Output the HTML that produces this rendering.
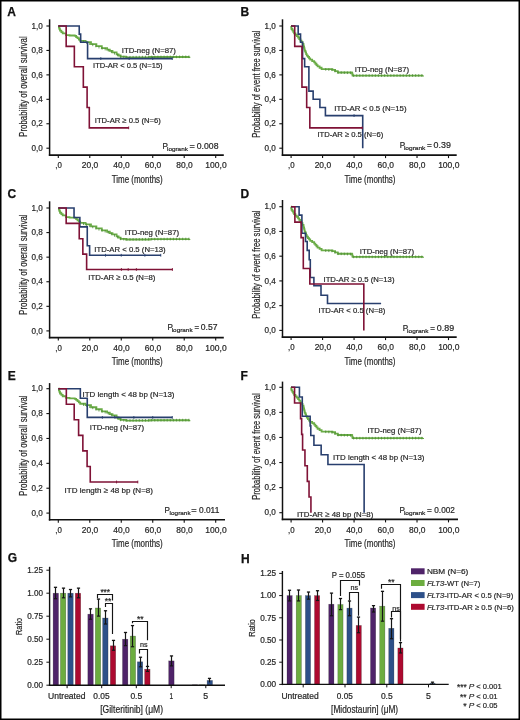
<!DOCTYPE html>
<html><head><meta charset="utf-8"><style>
html,body{margin:0;padding:0;background:#fff;width:520px;height:720px;overflow:hidden;font-family:"Liberation Sans",sans-serif;}
svg{display:block;will-change:transform;}
</style></head><body>
<svg width="520" height="720" viewBox="0 0 520 720" font-family="&quot;Liberation Sans&quot;, sans-serif">
<rect x="0" y="0" width="520" height="720" fill="#fff"/>
<text x="7.30" y="15.60" font-size="12" font-weight="bold" fill="#111" stroke="#111" stroke-width="0.25">A</text>
<text x="240.60" y="15.50" font-size="12" font-weight="bold" fill="#111" stroke="#111" stroke-width="0.25">B</text>
<text x="7.50" y="198.30" font-size="12" font-weight="bold" fill="#111" stroke="#111" stroke-width="0.25">C</text>
<text x="240.60" y="198.30" font-size="12" font-weight="bold" fill="#111" stroke="#111" stroke-width="0.25">D</text>
<text x="7.70" y="380.00" font-size="12" font-weight="bold" fill="#111" stroke="#111" stroke-width="0.25">E</text>
<text x="240.60" y="379.90" font-size="12" font-weight="bold" fill="#111" stroke="#111" stroke-width="0.25">F</text>
<line x1="49.60" y1="19.30" x2="49.60" y2="155.90" stroke="#111" stroke-width="1.5"/>
<line x1="48.85" y1="155.10" x2="223.80" y2="155.10" stroke="#111" stroke-width="1.6"/>
<line x1="46.40" y1="148.20" x2="49.60" y2="148.20" stroke="#111" stroke-width="1.1"/>
<text x="42.90" y="150.90" font-size="8.4" text-anchor="end" textLength="11.30" lengthAdjust="spacingAndGlyphs" fill="#262626" stroke="#262626" stroke-width="0.2">0,0</text>
<line x1="46.40" y1="123.76" x2="49.60" y2="123.76" stroke="#111" stroke-width="1.1"/>
<text x="42.90" y="126.46" font-size="8.4" text-anchor="end" textLength="11.30" lengthAdjust="spacingAndGlyphs" fill="#262626" stroke="#262626" stroke-width="0.2">0,2</text>
<line x1="46.40" y1="99.32" x2="49.60" y2="99.32" stroke="#111" stroke-width="1.1"/>
<text x="42.90" y="102.02" font-size="8.4" text-anchor="end" textLength="11.30" lengthAdjust="spacingAndGlyphs" fill="#262626" stroke="#262626" stroke-width="0.2">0,4</text>
<line x1="46.40" y1="74.88" x2="49.60" y2="74.88" stroke="#111" stroke-width="1.1"/>
<text x="42.90" y="77.58" font-size="8.4" text-anchor="end" textLength="11.30" lengthAdjust="spacingAndGlyphs" fill="#262626" stroke="#262626" stroke-width="0.2">0,6</text>
<line x1="46.40" y1="50.44" x2="49.60" y2="50.44" stroke="#111" stroke-width="1.1"/>
<text x="42.90" y="53.14" font-size="8.4" text-anchor="end" textLength="11.30" lengthAdjust="spacingAndGlyphs" fill="#262626" stroke="#262626" stroke-width="0.2">0,8</text>
<line x1="46.40" y1="26.00" x2="49.60" y2="26.00" stroke="#111" stroke-width="1.1"/>
<text x="42.90" y="28.70" font-size="8.4" text-anchor="end" textLength="11.30" lengthAdjust="spacingAndGlyphs" fill="#262626" stroke="#262626" stroke-width="0.2">1,0</text>
<line x1="58.30" y1="155.10" x2="58.30" y2="158.10" stroke="#111" stroke-width="1.1"/>
<text x="58.60" y="168.40" font-size="8.4" text-anchor="middle" textLength="6.60" lengthAdjust="spacingAndGlyphs" fill="#262626" stroke="#262626" stroke-width="0.2">,0</text>
<line x1="89.78" y1="155.10" x2="89.78" y2="158.10" stroke="#111" stroke-width="1.1"/>
<text x="90.08" y="168.40" font-size="8.4" text-anchor="middle" textLength="16.40" lengthAdjust="spacingAndGlyphs" fill="#262626" stroke="#262626" stroke-width="0.2">20,0</text>
<line x1="121.26" y1="155.10" x2="121.26" y2="158.10" stroke="#111" stroke-width="1.1"/>
<text x="121.56" y="168.40" font-size="8.4" text-anchor="middle" textLength="16.40" lengthAdjust="spacingAndGlyphs" fill="#262626" stroke="#262626" stroke-width="0.2">40,0</text>
<line x1="152.74" y1="155.10" x2="152.74" y2="158.10" stroke="#111" stroke-width="1.1"/>
<text x="153.04" y="168.40" font-size="8.4" text-anchor="middle" textLength="16.40" lengthAdjust="spacingAndGlyphs" fill="#262626" stroke="#262626" stroke-width="0.2">60,0</text>
<line x1="184.22" y1="155.10" x2="184.22" y2="158.10" stroke="#111" stroke-width="1.1"/>
<text x="184.52" y="168.40" font-size="8.4" text-anchor="middle" textLength="16.40" lengthAdjust="spacingAndGlyphs" fill="#262626" stroke="#262626" stroke-width="0.2">80,0</text>
<line x1="215.70" y1="155.10" x2="215.70" y2="158.10" stroke="#111" stroke-width="1.1"/>
<text x="216.00" y="168.40" font-size="8.4" text-anchor="middle" textLength="21.30" lengthAdjust="spacingAndGlyphs" fill="#262626" stroke="#262626" stroke-width="0.2">100,0</text>
<text x="137.20" y="182.60" font-size="10.6" text-anchor="middle" textLength="51.00" lengthAdjust="spacingAndGlyphs" fill="#262626" stroke="#262626" stroke-width="0.2">Time (months)</text>
<text transform="translate(26.90,86.60) rotate(-90)" x="0" y="0" font-size="10.4" text-anchor="middle" textLength="100.60" lengthAdjust="spacingAndGlyphs" fill="#262626" stroke="#262626" stroke-width="0.2">Probability of overall survival</text>
<path d="M58.40,26.00 H58.93 V27.57 H59.47 V29.13 H60.00 V30.70 H61.35 V32.05 H62.70 V33.40 H66.10 V35.10 H69.50 V35.50 H74.80 V35.90 H76.15 V37.05 H77.50 V38.20 H78.85 V39.50 H80.20 V40.80 H85.60 V42.20 H91.00 V44.20 H96.40 V46.20 H101.80 V48.20 H107.10 V49.60 H109.80 V50.95 H112.50 V52.30 H116.60 V54.30 H118.60 V55.50 H120.60 V56.70 H126.00 V57.30 H150.00 V57.00 H189.40 V56.80" fill="none" stroke="#6aac46" stroke-width="1.8" stroke-linejoin="miter" stroke-linecap="butt"/>
<path d="M83.48,40.35V42.95M86.58,41.26V43.86M89.68,42.41V45.01M92.78,43.56V46.16M95.88,44.71V47.31M98.98,45.86V48.46M102.08,46.98V49.58M105.18,47.79V50.39M108.28,48.89V51.49M111.38,50.44V53.04M114.48,51.97V54.57M117.58,53.59V56.19M120.68,55.41V58.01M123.78,55.75V58.35M126.88,55.99V58.59M129.98,55.95V58.55M133.08,55.91V58.51M136.18,55.87V58.47M139.28,55.83V58.43M142.38,55.80V58.40M145.48,55.76V58.36M148.58,55.72V58.32M151.68,55.69V58.29M154.78,55.68V58.28M157.88,55.66V58.26M160.98,55.64V58.24M164.08,55.63V58.23M167.18,55.61V58.21M170.28,55.60V58.20M173.38,55.58V58.18M176.48,55.57V58.17M179.58,55.55V58.15M182.68,55.53V58.13M185.78,55.52V58.12M188.88,55.50V58.10" stroke="#4b8a36" stroke-width="0.8" fill="none"/>
<path d="M58.30,26.00 H79.23 V34.15 H80.65 V42.29 H87.58 V58.59 H172.42" fill="none" stroke="#283f6e" stroke-width="1.6" stroke-linejoin="miter" stroke-linecap="butt"/>
<path d="M58.30,26.00 H66.17 V46.37 H74.35 V66.73 H83.33 V87.10 H87.10 V107.47 H89.31 V127.83 H128.82" fill="none" stroke="#7f1236" stroke-width="1.6" stroke-linejoin="miter" stroke-linecap="butt"/>
<path d="M172.26,57.19V59.99M100.80,57.19V59.99M129.13,57.19V59.99M152.74,57.19V59.99" stroke="#283f6e" stroke-width="0.9" fill="none"/>
<path d="M128.66,126.43V129.23" stroke="#7f1236" stroke-width="0.9" fill="none"/>
<text x="121.80" y="52.90" font-size="8.0" textLength="54.10" lengthAdjust="spacingAndGlyphs" fill="#262626" stroke="#262626" stroke-width="0.2">ITD-neg (N=87)</text>
<text x="93.10" y="68.00" font-size="8.0" textLength="69.50" lengthAdjust="spacingAndGlyphs" fill="#262626" stroke="#262626" stroke-width="0.2">ITD-AR &lt; 0.5 (N=15)</text>
<text x="94.80" y="123.30" font-size="8.0" textLength="65.90" lengthAdjust="spacingAndGlyphs" fill="#262626" stroke="#262626" stroke-width="0.2">ITD-AR ≥ 0.5 (N=6)</text>
<text x="162.60" y="148.60" font-size="8.6" textLength="5.40" lengthAdjust="spacingAndGlyphs" fill="#262626" stroke="#262626" stroke-width="0.2">P</text>
<text x="167.00" y="150.60" font-size="5.9" textLength="20.90" lengthAdjust="spacingAndGlyphs" fill="#262626" stroke="#262626" stroke-width="0.2">logrank</text>
<text x="189.50" y="148.60" font-size="8.6" textLength="5.30" lengthAdjust="spacingAndGlyphs" fill="#262626" stroke="#262626" stroke-width="0.2">=</text>
<text x="196.80" y="148.60" font-size="8.6" textLength="21.70" lengthAdjust="spacingAndGlyphs" fill="#262626" stroke="#262626" stroke-width="0.2">0.008</text>
<line x1="282.50" y1="19.30" x2="282.50" y2="155.90" stroke="#111" stroke-width="1.5"/>
<line x1="281.75" y1="155.10" x2="456.70" y2="155.10" stroke="#111" stroke-width="1.6"/>
<line x1="279.30" y1="148.20" x2="282.50" y2="148.20" stroke="#111" stroke-width="1.1"/>
<text x="275.80" y="150.90" font-size="8.4" text-anchor="end" textLength="11.30" lengthAdjust="spacingAndGlyphs" fill="#262626" stroke="#262626" stroke-width="0.2">0,0</text>
<line x1="279.30" y1="123.76" x2="282.50" y2="123.76" stroke="#111" stroke-width="1.1"/>
<text x="275.80" y="126.46" font-size="8.4" text-anchor="end" textLength="11.30" lengthAdjust="spacingAndGlyphs" fill="#262626" stroke="#262626" stroke-width="0.2">0,2</text>
<line x1="279.30" y1="99.32" x2="282.50" y2="99.32" stroke="#111" stroke-width="1.1"/>
<text x="275.80" y="102.02" font-size="8.4" text-anchor="end" textLength="11.30" lengthAdjust="spacingAndGlyphs" fill="#262626" stroke="#262626" stroke-width="0.2">0,4</text>
<line x1="279.30" y1="74.88" x2="282.50" y2="74.88" stroke="#111" stroke-width="1.1"/>
<text x="275.80" y="77.58" font-size="8.4" text-anchor="end" textLength="11.30" lengthAdjust="spacingAndGlyphs" fill="#262626" stroke="#262626" stroke-width="0.2">0,6</text>
<line x1="279.30" y1="50.44" x2="282.50" y2="50.44" stroke="#111" stroke-width="1.1"/>
<text x="275.80" y="53.14" font-size="8.4" text-anchor="end" textLength="11.30" lengthAdjust="spacingAndGlyphs" fill="#262626" stroke="#262626" stroke-width="0.2">0,8</text>
<line x1="279.30" y1="26.00" x2="282.50" y2="26.00" stroke="#111" stroke-width="1.1"/>
<text x="275.80" y="28.70" font-size="8.4" text-anchor="end" textLength="11.30" lengthAdjust="spacingAndGlyphs" fill="#262626" stroke="#262626" stroke-width="0.2">1,0</text>
<line x1="291.10" y1="155.10" x2="291.10" y2="158.10" stroke="#111" stroke-width="1.1"/>
<text x="291.40" y="168.40" font-size="8.4" text-anchor="middle" textLength="6.60" lengthAdjust="spacingAndGlyphs" fill="#262626" stroke="#262626" stroke-width="0.2">,0</text>
<line x1="322.58" y1="155.10" x2="322.58" y2="158.10" stroke="#111" stroke-width="1.1"/>
<text x="322.88" y="168.40" font-size="8.4" text-anchor="middle" textLength="16.40" lengthAdjust="spacingAndGlyphs" fill="#262626" stroke="#262626" stroke-width="0.2">20,0</text>
<line x1="354.06" y1="155.10" x2="354.06" y2="158.10" stroke="#111" stroke-width="1.1"/>
<text x="354.36" y="168.40" font-size="8.4" text-anchor="middle" textLength="16.40" lengthAdjust="spacingAndGlyphs" fill="#262626" stroke="#262626" stroke-width="0.2">40,0</text>
<line x1="385.54" y1="155.10" x2="385.54" y2="158.10" stroke="#111" stroke-width="1.1"/>
<text x="385.84" y="168.40" font-size="8.4" text-anchor="middle" textLength="16.40" lengthAdjust="spacingAndGlyphs" fill="#262626" stroke="#262626" stroke-width="0.2">60,0</text>
<line x1="417.02" y1="155.10" x2="417.02" y2="158.10" stroke="#111" stroke-width="1.1"/>
<text x="417.32" y="168.40" font-size="8.4" text-anchor="middle" textLength="16.40" lengthAdjust="spacingAndGlyphs" fill="#262626" stroke="#262626" stroke-width="0.2">80,0</text>
<line x1="448.50" y1="155.10" x2="448.50" y2="158.10" stroke="#111" stroke-width="1.1"/>
<text x="448.80" y="168.40" font-size="8.4" text-anchor="middle" textLength="21.30" lengthAdjust="spacingAndGlyphs" fill="#262626" stroke="#262626" stroke-width="0.2">100,0</text>
<text x="370.00" y="182.60" font-size="10.6" text-anchor="middle" textLength="51.00" lengthAdjust="spacingAndGlyphs" fill="#262626" stroke="#262626" stroke-width="0.2">Time (months)</text>
<text transform="translate(259.90,84.15) rotate(-90)" x="0" y="0" font-size="10.4" text-anchor="middle" textLength="107.30" lengthAdjust="spacingAndGlyphs" fill="#262626" stroke="#262626" stroke-width="0.2">Probability of event free survival</text>
<path d="M291.00,26.00 H291.25 V27.50 H291.50 V29.00 H292.37 V30.47 H293.23 V31.93 H294.10 V33.40 H295.43 V34.77 H296.77 V36.13 H298.10 V37.50 H299.23 V39.07 H300.37 V40.63 H301.50 V42.20 H302.50 V43.90 H303.50 V45.60 H303.82 V46.92 H304.15 V48.25 H304.48 V49.58 H304.80 V50.90 H305.47 V52.47 H306.13 V54.03 H306.80 V55.60 H307.93 V56.97 H309.07 V58.33 H310.20 V59.70 H312.20 V61.05 H314.20 V62.40 H315.33 V63.73 H316.47 V65.07 H317.60 V66.40 H319.60 V67.75 H321.60 V69.10 H332.40 V69.80 H335.10 V71.15 H337.80 V72.50 H351.90 V72.90 H352.25 V74.25 H352.60 V75.60 H423.10 V75.50" fill="none" stroke="#6aac46" stroke-width="1.8" stroke-linejoin="miter" stroke-linecap="butt"/>
<path d="M325.73,68.07V70.67M328.83,68.27V70.87M331.93,68.47V71.07M335.03,69.81V72.41M338.13,71.21V73.81M341.23,71.30V73.90M344.33,71.39V73.99M347.43,71.47V74.07M350.53,71.56V74.16M353.63,74.30V76.90M356.73,74.29V76.89M359.83,74.29V76.89M362.93,74.29V76.89M366.03,74.28V76.88M369.13,74.28V76.88M372.23,74.27V76.87M375.33,74.27V76.87M378.43,74.26V76.86M381.53,74.26V76.86M384.63,74.25V76.85M387.73,74.25V76.85M390.83,74.25V76.85M393.93,74.24V76.84M397.03,74.24V76.84M400.13,74.23V76.83M403.23,74.23V76.83M406.33,74.22V76.82M409.43,74.22V76.82M412.53,74.21V76.81M415.63,74.21V76.81M418.73,74.21V76.81M421.83,74.20V76.80" stroke="#4b8a36" stroke-width="0.8" fill="none"/>
<path d="M291.10,26.00 H298.18 V34.15 H300.54 V42.29 H302.59 V58.59 H304.64 V66.73 H308.89 V91.17 H313.14 V99.32 H319.90 V107.47 H325.41 V115.61 H362.72 V148.20" fill="none" stroke="#283f6e" stroke-width="1.6" stroke-linejoin="miter" stroke-linecap="butt"/>
<path d="M291.10,26.00 H294.72 V46.37 H301.96 V87.10 H306.68 V107.47 H309.83 V127.83 H362.40" fill="none" stroke="#7f1236" stroke-width="1.6" stroke-linejoin="miter" stroke-linecap="butt"/>
<path d="M354.06,114.21V117.01" stroke="#283f6e" stroke-width="0.9" fill="none"/>
<path d="M362.24,126.43V129.23" stroke="#7f1236" stroke-width="0.9" fill="none"/>
<text x="354.80" y="71.50" font-size="8.0" textLength="54.30" lengthAdjust="spacingAndGlyphs" fill="#262626" stroke="#262626" stroke-width="0.2">ITD-neg (N=87)</text>
<text x="334.30" y="111.20" font-size="8.0" textLength="72.20" lengthAdjust="spacingAndGlyphs" fill="#262626" stroke="#262626" stroke-width="0.2">ITD-AR &lt; 0.5 (N=15)</text>
<text x="317.40" y="137.20" font-size="8.0" textLength="65.90" lengthAdjust="spacingAndGlyphs" fill="#262626" stroke="#262626" stroke-width="0.2">ITD-AR ≥ 0.5 (N=6)</text>
<text x="399.80" y="148.30" font-size="8.6" textLength="5.40" lengthAdjust="spacingAndGlyphs" fill="#262626" stroke="#262626" stroke-width="0.2">P</text>
<text x="403.90" y="150.30" font-size="5.9" textLength="21.50" lengthAdjust="spacingAndGlyphs" fill="#262626" stroke="#262626" stroke-width="0.2">logrank</text>
<text x="426.90" y="148.30" font-size="8.6" textLength="4.80" lengthAdjust="spacingAndGlyphs" fill="#262626" stroke="#262626" stroke-width="0.2">=</text>
<text x="433.60" y="148.30" font-size="8.6" textLength="17.30" lengthAdjust="spacingAndGlyphs" fill="#262626" stroke="#262626" stroke-width="0.2">0.39</text>
<line x1="49.60" y1="201.30" x2="49.60" y2="338.40" stroke="#111" stroke-width="1.5"/>
<line x1="48.85" y1="337.60" x2="223.80" y2="337.60" stroke="#111" stroke-width="1.6"/>
<line x1="46.40" y1="330.90" x2="49.60" y2="330.90" stroke="#111" stroke-width="1.1"/>
<text x="42.90" y="333.60" font-size="8.4" text-anchor="end" textLength="11.30" lengthAdjust="spacingAndGlyphs" fill="#262626" stroke="#262626" stroke-width="0.2">0,0</text>
<line x1="46.40" y1="306.32" x2="49.60" y2="306.32" stroke="#111" stroke-width="1.1"/>
<text x="42.90" y="309.02" font-size="8.4" text-anchor="end" textLength="11.30" lengthAdjust="spacingAndGlyphs" fill="#262626" stroke="#262626" stroke-width="0.2">0,2</text>
<line x1="46.40" y1="281.74" x2="49.60" y2="281.74" stroke="#111" stroke-width="1.1"/>
<text x="42.90" y="284.44" font-size="8.4" text-anchor="end" textLength="11.30" lengthAdjust="spacingAndGlyphs" fill="#262626" stroke="#262626" stroke-width="0.2">0,4</text>
<line x1="46.40" y1="257.16" x2="49.60" y2="257.16" stroke="#111" stroke-width="1.1"/>
<text x="42.90" y="259.86" font-size="8.4" text-anchor="end" textLength="11.30" lengthAdjust="spacingAndGlyphs" fill="#262626" stroke="#262626" stroke-width="0.2">0,6</text>
<line x1="46.40" y1="232.58" x2="49.60" y2="232.58" stroke="#111" stroke-width="1.1"/>
<text x="42.90" y="235.28" font-size="8.4" text-anchor="end" textLength="11.30" lengthAdjust="spacingAndGlyphs" fill="#262626" stroke="#262626" stroke-width="0.2">0,8</text>
<line x1="46.40" y1="208.00" x2="49.60" y2="208.00" stroke="#111" stroke-width="1.1"/>
<text x="42.90" y="210.70" font-size="8.4" text-anchor="end" textLength="11.30" lengthAdjust="spacingAndGlyphs" fill="#262626" stroke="#262626" stroke-width="0.2">1,0</text>
<line x1="58.30" y1="337.60" x2="58.30" y2="340.60" stroke="#111" stroke-width="1.1"/>
<text x="58.60" y="350.90" font-size="8.4" text-anchor="middle" textLength="6.60" lengthAdjust="spacingAndGlyphs" fill="#262626" stroke="#262626" stroke-width="0.2">,0</text>
<line x1="89.78" y1="337.60" x2="89.78" y2="340.60" stroke="#111" stroke-width="1.1"/>
<text x="90.08" y="350.90" font-size="8.4" text-anchor="middle" textLength="16.40" lengthAdjust="spacingAndGlyphs" fill="#262626" stroke="#262626" stroke-width="0.2">20,0</text>
<line x1="121.26" y1="337.60" x2="121.26" y2="340.60" stroke="#111" stroke-width="1.1"/>
<text x="121.56" y="350.90" font-size="8.4" text-anchor="middle" textLength="16.40" lengthAdjust="spacingAndGlyphs" fill="#262626" stroke="#262626" stroke-width="0.2">40,0</text>
<line x1="152.74" y1="337.60" x2="152.74" y2="340.60" stroke="#111" stroke-width="1.1"/>
<text x="153.04" y="350.90" font-size="8.4" text-anchor="middle" textLength="16.40" lengthAdjust="spacingAndGlyphs" fill="#262626" stroke="#262626" stroke-width="0.2">60,0</text>
<line x1="184.22" y1="337.60" x2="184.22" y2="340.60" stroke="#111" stroke-width="1.1"/>
<text x="184.52" y="350.90" font-size="8.4" text-anchor="middle" textLength="16.40" lengthAdjust="spacingAndGlyphs" fill="#262626" stroke="#262626" stroke-width="0.2">80,0</text>
<line x1="215.70" y1="337.60" x2="215.70" y2="340.60" stroke="#111" stroke-width="1.1"/>
<text x="216.00" y="350.90" font-size="8.4" text-anchor="middle" textLength="21.30" lengthAdjust="spacingAndGlyphs" fill="#262626" stroke="#262626" stroke-width="0.2">100,0</text>
<text x="137.20" y="365.10" font-size="10.6" text-anchor="middle" textLength="51.00" lengthAdjust="spacingAndGlyphs" fill="#262626" stroke="#262626" stroke-width="0.2">Time (months)</text>
<text transform="translate(26.90,264.65) rotate(-90)" x="0" y="0" font-size="10.4" text-anchor="middle" textLength="100.50" lengthAdjust="spacingAndGlyphs" fill="#262626" stroke="#262626" stroke-width="0.2">Probability of overall survival</text>
<path d="M58.40,208.00 H58.93 V209.58 H59.47 V211.15 H60.00 V212.73 H61.35 V214.08 H62.70 V215.44 H66.10 V217.15 H69.50 V217.55 H74.80 V217.96 H76.15 V219.11 H77.50 V220.27 H78.85 V221.58 H80.20 V222.88 H85.60 V224.29 H91.00 V226.30 H96.40 V228.32 H101.80 V230.33 H107.10 V231.74 H109.80 V233.09 H112.50 V234.45 H116.60 V236.46 H118.60 V237.67 H120.60 V238.88 H126.00 V239.48 H150.00 V239.18 H189.40 V238.98" fill="none" stroke="#6aac46" stroke-width="1.8" stroke-linejoin="miter" stroke-linecap="butt"/>
<path d="M83.48,222.44V225.04M86.58,223.36V225.96M89.68,224.51V227.11M92.78,225.67V228.27M95.88,226.82V229.42M98.98,227.98V230.58M102.08,229.10V231.70M105.18,229.93V232.53M108.28,231.03V233.63M111.38,232.59V235.19M114.48,234.12V236.72M117.58,235.76V238.36M120.68,237.59V240.19M123.78,237.93V240.53M126.88,238.17V240.77M129.98,238.13V240.73M133.08,238.09V240.69M136.18,238.05V240.65M139.28,238.01V240.61M142.38,237.97V240.57M145.48,237.93V240.53M148.58,237.90V240.50M151.68,237.87V240.47M154.78,237.85V240.45M157.88,237.84V240.44M160.98,237.82V240.42M164.08,237.81V240.41M167.18,237.79V240.39M170.28,237.77V240.37M173.38,237.76V240.36M176.48,237.74V240.34M179.58,237.73V240.33M182.68,237.71V240.31M185.78,237.69V240.29M188.88,237.68V240.28" stroke="#4b8a36" stroke-width="0.8" fill="none"/>
<path d="M58.30,208.00 H74.04 V217.45 H79.86 V226.91 H87.26 V245.82 H89.62 V255.27 H160.92" fill="none" stroke="#283f6e" stroke-width="1.6" stroke-linejoin="miter" stroke-linecap="butt"/>
<path d="M58.30,208.00 H66.17 V223.36 H79.23 V238.72 H82.85 V254.09 H86.63 V269.45 H172.57" fill="none" stroke="#7f1236" stroke-width="1.6" stroke-linejoin="miter" stroke-linecap="butt"/>
<path d="M160.77,253.87V256.67M144.87,253.87V256.67M105.52,253.87V256.67M121.26,253.87V256.67" stroke="#283f6e" stroke-width="0.9" fill="none"/>
<path d="M172.42,268.05V270.85M121.42,268.05V270.85M128.19,268.05V270.85M136.37,268.05V270.85" stroke="#7f1236" stroke-width="0.9" fill="none"/>
<text x="124.80" y="234.70" font-size="8.0" textLength="54.30" lengthAdjust="spacingAndGlyphs" fill="#262626" stroke="#262626" stroke-width="0.2">ITD-neg (N=87)</text>
<text x="94.30" y="251.70" font-size="8.0" textLength="71.40" lengthAdjust="spacingAndGlyphs" fill="#262626" stroke="#262626" stroke-width="0.2">ITD-AR &lt; 0.5 (N=13)</text>
<text x="88.30" y="279.70" font-size="8.0" textLength="67.10" lengthAdjust="spacingAndGlyphs" fill="#262626" stroke="#262626" stroke-width="0.2">ITD-AR ≥ 0.5 (N=8)</text>
<text x="167.40" y="330.40" font-size="8.6" textLength="5.40" lengthAdjust="spacingAndGlyphs" fill="#262626" stroke="#262626" stroke-width="0.2">P</text>
<text x="171.70" y="332.40" font-size="5.9" textLength="20.90" lengthAdjust="spacingAndGlyphs" fill="#262626" stroke="#262626" stroke-width="0.2">logrank</text>
<text x="194.50" y="330.40" font-size="8.6" textLength="4.60" lengthAdjust="spacingAndGlyphs" fill="#262626" stroke="#262626" stroke-width="0.2">=</text>
<text x="200.80" y="330.40" font-size="8.6" textLength="16.70" lengthAdjust="spacingAndGlyphs" fill="#262626" stroke="#262626" stroke-width="0.2">0.57</text>
<line x1="282.50" y1="200.00" x2="282.50" y2="337.90" stroke="#111" stroke-width="1.5"/>
<line x1="281.75" y1="337.10" x2="456.70" y2="337.10" stroke="#111" stroke-width="1.6"/>
<line x1="279.30" y1="330.40" x2="282.50" y2="330.40" stroke="#111" stroke-width="1.1"/>
<text x="275.80" y="333.10" font-size="8.4" text-anchor="end" textLength="11.30" lengthAdjust="spacingAndGlyphs" fill="#262626" stroke="#262626" stroke-width="0.2">0,0</text>
<line x1="279.30" y1="305.66" x2="282.50" y2="305.66" stroke="#111" stroke-width="1.1"/>
<text x="275.80" y="308.36" font-size="8.4" text-anchor="end" textLength="11.30" lengthAdjust="spacingAndGlyphs" fill="#262626" stroke="#262626" stroke-width="0.2">0,2</text>
<line x1="279.30" y1="280.92" x2="282.50" y2="280.92" stroke="#111" stroke-width="1.1"/>
<text x="275.80" y="283.62" font-size="8.4" text-anchor="end" textLength="11.30" lengthAdjust="spacingAndGlyphs" fill="#262626" stroke="#262626" stroke-width="0.2">0,4</text>
<line x1="279.30" y1="256.18" x2="282.50" y2="256.18" stroke="#111" stroke-width="1.1"/>
<text x="275.80" y="258.88" font-size="8.4" text-anchor="end" textLength="11.30" lengthAdjust="spacingAndGlyphs" fill="#262626" stroke="#262626" stroke-width="0.2">0,6</text>
<line x1="279.30" y1="231.44" x2="282.50" y2="231.44" stroke="#111" stroke-width="1.1"/>
<text x="275.80" y="234.14" font-size="8.4" text-anchor="end" textLength="11.30" lengthAdjust="spacingAndGlyphs" fill="#262626" stroke="#262626" stroke-width="0.2">0,8</text>
<line x1="279.30" y1="206.70" x2="282.50" y2="206.70" stroke="#111" stroke-width="1.1"/>
<text x="275.80" y="209.40" font-size="8.4" text-anchor="end" textLength="11.30" lengthAdjust="spacingAndGlyphs" fill="#262626" stroke="#262626" stroke-width="0.2">1,0</text>
<line x1="291.10" y1="337.10" x2="291.10" y2="340.10" stroke="#111" stroke-width="1.1"/>
<text x="291.40" y="350.40" font-size="8.4" text-anchor="middle" textLength="6.60" lengthAdjust="spacingAndGlyphs" fill="#262626" stroke="#262626" stroke-width="0.2">,0</text>
<line x1="322.58" y1="337.10" x2="322.58" y2="340.10" stroke="#111" stroke-width="1.1"/>
<text x="322.88" y="350.40" font-size="8.4" text-anchor="middle" textLength="16.40" lengthAdjust="spacingAndGlyphs" fill="#262626" stroke="#262626" stroke-width="0.2">20,0</text>
<line x1="354.06" y1="337.10" x2="354.06" y2="340.10" stroke="#111" stroke-width="1.1"/>
<text x="354.36" y="350.40" font-size="8.4" text-anchor="middle" textLength="16.40" lengthAdjust="spacingAndGlyphs" fill="#262626" stroke="#262626" stroke-width="0.2">40,0</text>
<line x1="385.54" y1="337.10" x2="385.54" y2="340.10" stroke="#111" stroke-width="1.1"/>
<text x="385.84" y="350.40" font-size="8.4" text-anchor="middle" textLength="16.40" lengthAdjust="spacingAndGlyphs" fill="#262626" stroke="#262626" stroke-width="0.2">60,0</text>
<line x1="417.02" y1="337.10" x2="417.02" y2="340.10" stroke="#111" stroke-width="1.1"/>
<text x="417.32" y="350.40" font-size="8.4" text-anchor="middle" textLength="16.40" lengthAdjust="spacingAndGlyphs" fill="#262626" stroke="#262626" stroke-width="0.2">80,0</text>
<line x1="448.50" y1="337.10" x2="448.50" y2="340.10" stroke="#111" stroke-width="1.1"/>
<text x="448.80" y="350.40" font-size="8.4" text-anchor="middle" textLength="21.30" lengthAdjust="spacingAndGlyphs" fill="#262626" stroke="#262626" stroke-width="0.2">100,0</text>
<text x="370.00" y="364.60" font-size="10.6" text-anchor="middle" textLength="51.00" lengthAdjust="spacingAndGlyphs" fill="#262626" stroke="#262626" stroke-width="0.2">Time (months)</text>
<text transform="translate(259.90,264.65) rotate(-90)" x="0" y="0" font-size="10.4" text-anchor="middle" textLength="108.30" lengthAdjust="spacingAndGlyphs" fill="#262626" stroke="#262626" stroke-width="0.2">Probability of event free survival</text>
<path d="M291.00,206.70 H291.25 V208.22 H291.50 V209.74 H292.37 V211.22 H293.23 V212.71 H294.10 V214.19 H295.43 V215.57 H296.77 V216.96 H298.10 V218.34 H299.23 V219.93 H300.37 V221.51 H301.50 V223.10 H302.50 V224.82 H303.50 V226.54 H303.82 V227.88 H304.15 V229.22 H304.48 V230.56 H304.80 V231.91 H305.47 V233.49 H306.13 V235.08 H306.80 V236.66 H307.93 V238.05 H309.07 V239.43 H310.20 V240.81 H312.20 V242.18 H314.20 V243.55 H315.33 V244.90 H316.47 V246.25 H317.60 V247.60 H319.60 V248.96 H321.60 V250.33 H332.40 V251.04 H335.10 V252.40 H337.80 V253.77 H351.90 V254.18 H352.25 V255.54 H352.60 V256.91 H423.10 V256.81" fill="none" stroke="#6aac46" stroke-width="1.8" stroke-linejoin="miter" stroke-linecap="butt"/>
<path d="M325.73,249.30V251.90M328.83,249.50V252.10M331.93,249.71V252.31M335.03,251.07V253.67M338.13,252.48V255.08M341.23,252.57V255.17M344.33,252.66V255.26M347.43,252.75V255.35M350.53,252.84V255.44M353.63,255.61V258.21M356.73,255.60V258.20M359.83,255.60V258.20M362.93,255.59V258.19M366.03,255.59V258.19M369.13,255.59V258.19M372.23,255.58V258.18M375.33,255.58V258.18M378.43,255.57V258.17M381.53,255.57V258.17M384.63,255.56V258.16M387.73,255.56V258.16M390.83,255.55V258.15M393.93,255.55V258.15M397.03,255.55V258.15M400.13,255.54V258.14M403.23,255.54V258.14M406.33,255.53V258.13M409.43,255.53V258.13M412.53,255.52V258.12M415.63,255.52V258.12M418.73,255.51V258.11M421.83,255.51V258.11" stroke="#4b8a36" stroke-width="0.8" fill="none"/>
<path d="M291.10,206.70 H299.10 V215.10 H301.90 V233.20 H305.50 V241.50 H307.20 V250.40 H309.20 V259.80 H310.30 V277.50 H313.90 V285.80 H321.00 V295.20 H327.50 V303.50 H381.10" fill="none" stroke="#283f6e" stroke-width="1.6" stroke-linejoin="miter" stroke-linecap="butt"/>
<path d="M291.10,206.70 H294.88 V222.16 H301.09 V237.62 H303.30 V268.55 H309.83 V284.01 H363.82 V330.40" fill="none" stroke="#7f1236" stroke-width="1.6" stroke-linejoin="miter" stroke-linecap="butt"/>
<text x="359.80" y="253.50" font-size="8.0" textLength="54.30" lengthAdjust="spacingAndGlyphs" fill="#262626" stroke="#262626" stroke-width="0.2">ITD-neg (N=87)</text>
<text x="323.50" y="281.70" font-size="8.0" textLength="71.00" lengthAdjust="spacingAndGlyphs" fill="#262626" stroke="#262626" stroke-width="0.2">ITD-AR ≥ 0.5 (N=13)</text>
<text x="318.50" y="313.20" font-size="8.0" textLength="66.80" lengthAdjust="spacingAndGlyphs" fill="#262626" stroke="#262626" stroke-width="0.2">ITD-AR &lt; 0.5 (N=8)</text>
<text x="402.80" y="330.60" font-size="8.6" textLength="5.40" lengthAdjust="spacingAndGlyphs" fill="#262626" stroke="#262626" stroke-width="0.2">P</text>
<text x="407.10" y="332.60" font-size="5.9" textLength="21.30" lengthAdjust="spacingAndGlyphs" fill="#262626" stroke="#262626" stroke-width="0.2">logrank</text>
<text x="430.30" y="330.60" font-size="8.6" textLength="4.70" lengthAdjust="spacingAndGlyphs" fill="#262626" stroke="#262626" stroke-width="0.2">=</text>
<text x="436.80" y="330.60" font-size="8.6" textLength="17.30" lengthAdjust="spacingAndGlyphs" fill="#262626" stroke="#262626" stroke-width="0.2">0.89</text>
<line x1="49.60" y1="383.10" x2="49.60" y2="520.60" stroke="#111" stroke-width="1.5"/>
<line x1="48.85" y1="519.80" x2="225.00" y2="519.80" stroke="#111" stroke-width="1.6"/>
<line x1="46.40" y1="513.10" x2="49.60" y2="513.10" stroke="#111" stroke-width="1.1"/>
<text x="42.90" y="515.80" font-size="8.4" text-anchor="end" textLength="11.30" lengthAdjust="spacingAndGlyphs" fill="#262626" stroke="#262626" stroke-width="0.2">0,0</text>
<line x1="46.40" y1="488.22" x2="49.60" y2="488.22" stroke="#111" stroke-width="1.1"/>
<text x="42.90" y="490.92" font-size="8.4" text-anchor="end" textLength="11.30" lengthAdjust="spacingAndGlyphs" fill="#262626" stroke="#262626" stroke-width="0.2">0,2</text>
<line x1="46.40" y1="463.34" x2="49.60" y2="463.34" stroke="#111" stroke-width="1.1"/>
<text x="42.90" y="466.04" font-size="8.4" text-anchor="end" textLength="11.30" lengthAdjust="spacingAndGlyphs" fill="#262626" stroke="#262626" stroke-width="0.2">0,4</text>
<line x1="46.40" y1="438.46" x2="49.60" y2="438.46" stroke="#111" stroke-width="1.1"/>
<text x="42.90" y="441.16" font-size="8.4" text-anchor="end" textLength="11.30" lengthAdjust="spacingAndGlyphs" fill="#262626" stroke="#262626" stroke-width="0.2">0,6</text>
<line x1="46.40" y1="413.58" x2="49.60" y2="413.58" stroke="#111" stroke-width="1.1"/>
<text x="42.90" y="416.28" font-size="8.4" text-anchor="end" textLength="11.30" lengthAdjust="spacingAndGlyphs" fill="#262626" stroke="#262626" stroke-width="0.2">0,8</text>
<line x1="46.40" y1="388.70" x2="49.60" y2="388.70" stroke="#111" stroke-width="1.1"/>
<text x="42.90" y="391.40" font-size="8.4" text-anchor="end" textLength="11.30" lengthAdjust="spacingAndGlyphs" fill="#262626" stroke="#262626" stroke-width="0.2">1,0</text>
<line x1="58.30" y1="519.80" x2="58.30" y2="522.80" stroke="#111" stroke-width="1.1"/>
<text x="58.60" y="533.10" font-size="8.4" text-anchor="middle" textLength="6.60" lengthAdjust="spacingAndGlyphs" fill="#262626" stroke="#262626" stroke-width="0.2">,0</text>
<line x1="89.78" y1="519.80" x2="89.78" y2="522.80" stroke="#111" stroke-width="1.1"/>
<text x="90.08" y="533.10" font-size="8.4" text-anchor="middle" textLength="16.40" lengthAdjust="spacingAndGlyphs" fill="#262626" stroke="#262626" stroke-width="0.2">20,0</text>
<line x1="121.26" y1="519.80" x2="121.26" y2="522.80" stroke="#111" stroke-width="1.1"/>
<text x="121.56" y="533.10" font-size="8.4" text-anchor="middle" textLength="16.40" lengthAdjust="spacingAndGlyphs" fill="#262626" stroke="#262626" stroke-width="0.2">40,0</text>
<line x1="152.74" y1="519.80" x2="152.74" y2="522.80" stroke="#111" stroke-width="1.1"/>
<text x="153.04" y="533.10" font-size="8.4" text-anchor="middle" textLength="16.40" lengthAdjust="spacingAndGlyphs" fill="#262626" stroke="#262626" stroke-width="0.2">60,0</text>
<line x1="184.22" y1="519.80" x2="184.22" y2="522.80" stroke="#111" stroke-width="1.1"/>
<text x="184.52" y="533.10" font-size="8.4" text-anchor="middle" textLength="16.40" lengthAdjust="spacingAndGlyphs" fill="#262626" stroke="#262626" stroke-width="0.2">80,0</text>
<line x1="215.70" y1="519.80" x2="215.70" y2="522.80" stroke="#111" stroke-width="1.1"/>
<text x="216.00" y="533.10" font-size="8.4" text-anchor="middle" textLength="21.30" lengthAdjust="spacingAndGlyphs" fill="#262626" stroke="#262626" stroke-width="0.2">100,0</text>
<text x="137.20" y="547.30" font-size="10.6" text-anchor="middle" textLength="51.00" lengthAdjust="spacingAndGlyphs" fill="#262626" stroke="#262626" stroke-width="0.2">Time (months)</text>
<text transform="translate(26.90,445.65) rotate(-90)" x="0" y="0" font-size="10.4" text-anchor="middle" textLength="100.50" lengthAdjust="spacingAndGlyphs" fill="#262626" stroke="#262626" stroke-width="0.2">Probability of overall survival</text>
<path d="M58.40,388.70 H58.93 V390.29 H59.47 V391.89 H60.00 V393.48 H61.35 V394.86 H62.70 V396.23 H66.10 V397.96 H69.50 V398.37 H74.80 V398.78 H76.15 V399.95 H77.50 V401.12 H78.85 V402.44 H80.20 V403.77 H85.60 V405.19 H91.00 V407.23 H96.40 V409.26 H101.80 V411.30 H107.10 V412.72 H109.80 V414.10 H112.50 V415.47 H116.60 V417.51 H118.60 V418.73 H120.60 V419.95 H126.00 V420.56 H150.00 V420.26 H189.40 V420.05" fill="none" stroke="#6aac46" stroke-width="1.8" stroke-linejoin="miter" stroke-linecap="butt"/>
<path d="M83.48,403.33V405.93M86.58,404.26V406.86M89.68,405.43V408.03M92.78,406.60V409.20M95.88,407.77V410.37M98.98,408.94V411.54M102.08,410.08V412.68M105.18,410.91V413.51M108.28,412.03V414.63M111.38,413.61V416.21M114.48,415.16V417.76M117.58,416.81V419.41M120.68,418.66V421.26M123.78,419.01V421.61M126.88,419.25V421.85M129.98,419.21V421.81M133.08,419.17V421.77M136.18,419.13V421.73M139.28,419.09V421.69M142.38,419.06V421.66M145.48,419.02V421.62M148.58,418.98V421.58M151.68,418.95V421.55M154.78,418.93V421.53M157.88,418.92V421.52M160.98,418.90V421.50M164.08,418.89V421.49M167.18,418.87V421.47M170.28,418.85V421.45M173.38,418.84V421.44M176.48,418.82V421.42M179.58,418.81V421.41M182.68,418.79V421.39M185.78,418.77V421.37M188.88,418.76V421.36" stroke="#4b8a36" stroke-width="0.8" fill="none"/>
<path d="M58.30,388.70 H80.34 V398.27 H87.26 V417.41 H172.42" fill="none" stroke="#283f6e" stroke-width="1.6" stroke-linejoin="miter" stroke-linecap="butt"/>
<path d="M58.30,388.70 H66.33 V404.25 H74.20 V419.80 H78.60 V435.35 H82.85 V450.90 H87.10 V466.45 H90.25 V482.00 H137.94" fill="none" stroke="#7f1236" stroke-width="1.6" stroke-linejoin="miter" stroke-linecap="butt"/>
<path d="M172.26,416.01V418.81M102.37,416.01V418.81M114.96,416.01V418.81M133.85,416.01V418.81M152.74,416.01V418.81" stroke="#283f6e" stroke-width="0.9" fill="none"/>
<path d="M137.79,480.60V483.40M116.54,480.60V483.40" stroke="#7f1236" stroke-width="0.9" fill="none"/>
<text x="82.50" y="396.70" font-size="8.0" textLength="92.00" lengthAdjust="spacingAndGlyphs" fill="#262626" stroke="#262626" stroke-width="0.2">ITD length &lt; 48 bp (N=13)</text>
<text x="89.80" y="430.20" font-size="8.0" textLength="54.30" lengthAdjust="spacingAndGlyphs" fill="#262626" stroke="#262626" stroke-width="0.2">ITD-neg (N=87)</text>
<text x="64.50" y="492.90" font-size="8.0" textLength="88.50" lengthAdjust="spacingAndGlyphs" fill="#262626" stroke="#262626" stroke-width="0.2">ITD length ≥ 48 bp (N=8)</text>
<text x="164.60" y="512.60" font-size="8.6" textLength="5.40" lengthAdjust="spacingAndGlyphs" fill="#262626" stroke="#262626" stroke-width="0.2">P</text>
<text x="169.60" y="514.60" font-size="5.9" textLength="21.00" lengthAdjust="spacingAndGlyphs" fill="#262626" stroke="#262626" stroke-width="0.2">logrank</text>
<text x="191.30" y="512.60" font-size="8.6" textLength="5.40" lengthAdjust="spacingAndGlyphs" fill="#262626" stroke="#262626" stroke-width="0.2">=</text>
<text x="199.00" y="512.60" font-size="8.6" textLength="20.30" lengthAdjust="spacingAndGlyphs" fill="#262626" stroke="#262626" stroke-width="0.2">0.011</text>
<line x1="282.50" y1="381.60" x2="282.50" y2="520.20" stroke="#111" stroke-width="1.5"/>
<line x1="281.75" y1="519.40" x2="458.00" y2="519.40" stroke="#111" stroke-width="1.6"/>
<line x1="279.30" y1="512.70" x2="282.50" y2="512.70" stroke="#111" stroke-width="1.1"/>
<text x="275.80" y="515.40" font-size="8.4" text-anchor="end" textLength="11.30" lengthAdjust="spacingAndGlyphs" fill="#262626" stroke="#262626" stroke-width="0.2">0,0</text>
<line x1="279.30" y1="487.62" x2="282.50" y2="487.62" stroke="#111" stroke-width="1.1"/>
<text x="275.80" y="490.32" font-size="8.4" text-anchor="end" textLength="11.30" lengthAdjust="spacingAndGlyphs" fill="#262626" stroke="#262626" stroke-width="0.2">0,2</text>
<line x1="279.30" y1="462.54" x2="282.50" y2="462.54" stroke="#111" stroke-width="1.1"/>
<text x="275.80" y="465.24" font-size="8.4" text-anchor="end" textLength="11.30" lengthAdjust="spacingAndGlyphs" fill="#262626" stroke="#262626" stroke-width="0.2">0,4</text>
<line x1="279.30" y1="437.46" x2="282.50" y2="437.46" stroke="#111" stroke-width="1.1"/>
<text x="275.80" y="440.16" font-size="8.4" text-anchor="end" textLength="11.30" lengthAdjust="spacingAndGlyphs" fill="#262626" stroke="#262626" stroke-width="0.2">0,6</text>
<line x1="279.30" y1="412.38" x2="282.50" y2="412.38" stroke="#111" stroke-width="1.1"/>
<text x="275.80" y="415.08" font-size="8.4" text-anchor="end" textLength="11.30" lengthAdjust="spacingAndGlyphs" fill="#262626" stroke="#262626" stroke-width="0.2">0,8</text>
<line x1="279.30" y1="387.30" x2="282.50" y2="387.30" stroke="#111" stroke-width="1.1"/>
<text x="275.80" y="390.00" font-size="8.4" text-anchor="end" textLength="11.30" lengthAdjust="spacingAndGlyphs" fill="#262626" stroke="#262626" stroke-width="0.2">1,0</text>
<line x1="291.10" y1="519.40" x2="291.10" y2="522.40" stroke="#111" stroke-width="1.1"/>
<text x="291.40" y="532.70" font-size="8.4" text-anchor="middle" textLength="6.60" lengthAdjust="spacingAndGlyphs" fill="#262626" stroke="#262626" stroke-width="0.2">,0</text>
<line x1="322.58" y1="519.40" x2="322.58" y2="522.40" stroke="#111" stroke-width="1.1"/>
<text x="322.88" y="532.70" font-size="8.4" text-anchor="middle" textLength="16.40" lengthAdjust="spacingAndGlyphs" fill="#262626" stroke="#262626" stroke-width="0.2">20,0</text>
<line x1="354.06" y1="519.40" x2="354.06" y2="522.40" stroke="#111" stroke-width="1.1"/>
<text x="354.36" y="532.70" font-size="8.4" text-anchor="middle" textLength="16.40" lengthAdjust="spacingAndGlyphs" fill="#262626" stroke="#262626" stroke-width="0.2">40,0</text>
<line x1="385.54" y1="519.40" x2="385.54" y2="522.40" stroke="#111" stroke-width="1.1"/>
<text x="385.84" y="532.70" font-size="8.4" text-anchor="middle" textLength="16.40" lengthAdjust="spacingAndGlyphs" fill="#262626" stroke="#262626" stroke-width="0.2">60,0</text>
<line x1="417.02" y1="519.40" x2="417.02" y2="522.40" stroke="#111" stroke-width="1.1"/>
<text x="417.32" y="532.70" font-size="8.4" text-anchor="middle" textLength="16.40" lengthAdjust="spacingAndGlyphs" fill="#262626" stroke="#262626" stroke-width="0.2">80,0</text>
<line x1="448.50" y1="519.40" x2="448.50" y2="522.40" stroke="#111" stroke-width="1.1"/>
<text x="448.80" y="532.70" font-size="8.4" text-anchor="middle" textLength="21.30" lengthAdjust="spacingAndGlyphs" fill="#262626" stroke="#262626" stroke-width="0.2">100,0</text>
<text x="370.00" y="546.90" font-size="10.6" text-anchor="middle" textLength="51.00" lengthAdjust="spacingAndGlyphs" fill="#262626" stroke="#262626" stroke-width="0.2">Time (months)</text>
<text transform="translate(259.90,446.60) rotate(-90)" x="0" y="0" font-size="10.4" text-anchor="middle" textLength="106.40" lengthAdjust="spacingAndGlyphs" fill="#262626" stroke="#262626" stroke-width="0.2">Probability of event free survival</text>
<path d="M291.00,387.30 H291.25 V388.84 H291.50 V390.38 H292.37 V391.88 H293.23 V393.39 H294.10 V394.89 H295.43 V396.30 H296.77 V397.70 H298.10 V399.10 H299.23 V400.71 H300.37 V402.32 H301.50 V403.92 H302.50 V405.67 H303.50 V407.41 H303.82 V408.77 H304.15 V410.13 H304.48 V411.49 H304.80 V412.85 H305.47 V414.46 H306.13 V416.07 H306.80 V417.68 H307.93 V419.08 H309.07 V420.48 H310.20 V421.88 H312.20 V423.27 H314.20 V424.65 H315.33 V426.02 H316.47 V427.39 H317.60 V428.76 H319.60 V430.14 H321.60 V431.53 H332.40 V432.25 H335.10 V433.63 H337.80 V435.02 H351.90 V435.43 H352.25 V436.81 H352.60 V438.20 H423.10 V438.10" fill="none" stroke="#6aac46" stroke-width="1.8" stroke-linejoin="miter" stroke-linecap="butt"/>
<path d="M325.73,430.50V433.10M328.83,430.71V433.31M331.93,430.92V433.52M335.03,432.30V434.90M338.13,433.73V436.33M341.23,433.82V436.42M344.33,433.91V436.51M347.43,434.00V436.60M350.53,434.09V436.69M353.63,436.90V439.50M356.73,436.89V439.49M359.83,436.89V439.49M362.93,436.88V439.48M366.03,436.88V439.48M369.13,436.87V439.47M372.23,436.87V439.47M375.33,436.87V439.47M378.43,436.86V439.46M381.53,436.86V439.46M384.63,436.85V439.45M387.73,436.85V439.45M390.83,436.84V439.44M393.93,436.84V439.44M397.03,436.83V439.43M400.13,436.83V439.43M403.23,436.83V439.43M406.33,436.82V439.42M409.43,436.82V439.42M412.53,436.81V439.41M415.63,436.81V439.41M418.73,436.80V439.40M421.83,436.80V439.40" stroke="#4b8a36" stroke-width="0.8" fill="none"/>
<path d="M291.10,387.30 H299.44 V396.95 H302.28 V416.24 H310.15 V425.88 H310.78 V435.53 H313.92 V445.18 H321.16 V454.82 H327.93 V464.47 H364.13 V512.70" fill="none" stroke="#283f6e" stroke-width="1.6" stroke-linejoin="miter" stroke-linecap="butt"/>
<path d="M291.10,387.30 H294.56 V402.98 H300.54 V418.65 H301.65 V434.33 H302.59 V450.00 H304.95 V465.68 H307.31 V481.35 H309.04 V497.03 H310.93 V512.70 H310.93" fill="none" stroke="#7f1236" stroke-width="1.6" stroke-linejoin="miter" stroke-linecap="butt"/>
<text x="367.40" y="432.50" font-size="8.0" textLength="54.10" lengthAdjust="spacingAndGlyphs" fill="#262626" stroke="#262626" stroke-width="0.2">ITD-neg (N=87)</text>
<text x="333.10" y="459.90" font-size="8.0" textLength="91.40" lengthAdjust="spacingAndGlyphs" fill="#262626" stroke="#262626" stroke-width="0.2">ITD length &lt; 48 bp (N=13)</text>
<text x="296.90" y="516.60" font-size="8.0" textLength="76.40" lengthAdjust="spacingAndGlyphs" fill="#262626" stroke="#262626" stroke-width="0.2">ITD-AR ≥ 48 bp (N=8)</text>
<text x="399.40" y="512.60" font-size="8.6" textLength="5.40" lengthAdjust="spacingAndGlyphs" fill="#262626" stroke="#262626" stroke-width="0.2">P</text>
<text x="403.90" y="514.60" font-size="5.9" textLength="21.50" lengthAdjust="spacingAndGlyphs" fill="#262626" stroke="#262626" stroke-width="0.2">logrank</text>
<text x="427.00" y="512.60" font-size="8.6" textLength="4.80" lengthAdjust="spacingAndGlyphs" fill="#262626" stroke="#262626" stroke-width="0.2">=</text>
<text x="434.30" y="512.60" font-size="8.6" textLength="20.60" lengthAdjust="spacingAndGlyphs" fill="#262626" stroke="#262626" stroke-width="0.2">0.002</text>
<rect x="53.10" y="593.20" width="5.40" height="92.00" fill="#4f2369" stroke="#1a1a1a" stroke-opacity="0.45" stroke-width="0.5"/>
<line x1="55.50" y1="587.31" x2="55.50" y2="598.72" stroke="#151515" stroke-width="1.2"/>
<line x1="53.90" y1="587.31" x2="57.10" y2="587.31" stroke="#151515" stroke-width="1.3"/>
<line x1="53.90" y1="598.72" x2="57.10" y2="598.72" stroke="#151515" stroke-width="1.2"/>
<rect x="60.40" y="593.20" width="5.40" height="92.00" fill="#6cad3f" stroke="#1a1a1a" stroke-opacity="0.45" stroke-width="0.5"/>
<line x1="63.50" y1="588.14" x2="63.50" y2="597.80" stroke="#151515" stroke-width="1.2"/>
<line x1="61.90" y1="588.14" x2="65.10" y2="588.14" stroke="#151515" stroke-width="1.3"/>
<line x1="61.90" y1="597.80" x2="65.10" y2="597.80" stroke="#151515" stroke-width="1.2"/>
<rect x="67.80" y="593.20" width="5.40" height="92.00" fill="#2d5089" stroke="#1a1a1a" stroke-opacity="0.45" stroke-width="0.5"/>
<line x1="70.50" y1="589.52" x2="70.50" y2="596.88" stroke="#151515" stroke-width="1.2"/>
<line x1="68.90" y1="589.52" x2="72.10" y2="589.52" stroke="#151515" stroke-width="1.3"/>
<line x1="68.90" y1="596.88" x2="72.10" y2="596.88" stroke="#151515" stroke-width="1.2"/>
<rect x="75.30" y="593.20" width="5.40" height="92.00" fill="#ad0a30" stroke="#1a1a1a" stroke-opacity="0.45" stroke-width="0.5"/>
<line x1="78.50" y1="588.14" x2="78.50" y2="597.80" stroke="#151515" stroke-width="1.2"/>
<line x1="76.90" y1="588.14" x2="80.10" y2="588.14" stroke="#151515" stroke-width="1.3"/>
<line x1="76.90" y1="597.80" x2="80.10" y2="597.80" stroke="#151515" stroke-width="1.2"/>
<rect x="87.85" y="614.18" width="5.40" height="71.02" fill="#4f2369" stroke="#1a1a1a" stroke-opacity="0.45" stroke-width="0.5"/>
<line x1="90.50" y1="608.84" x2="90.50" y2="619.24" stroke="#151515" stroke-width="1.2"/>
<line x1="88.90" y1="608.84" x2="92.10" y2="608.84" stroke="#151515" stroke-width="1.3"/>
<line x1="88.90" y1="619.24" x2="92.10" y2="619.24" stroke="#151515" stroke-width="1.2"/>
<rect x="95.30" y="608.01" width="5.40" height="77.19" fill="#6cad3f" stroke="#1a1a1a" stroke-opacity="0.45" stroke-width="0.5"/>
<line x1="98.50" y1="599.09" x2="98.50" y2="616.11" stroke="#151515" stroke-width="1.2"/>
<line x1="96.90" y1="599.09" x2="100.10" y2="599.09" stroke="#151515" stroke-width="1.3"/>
<line x1="96.90" y1="616.11" x2="100.10" y2="616.11" stroke="#151515" stroke-width="1.2"/>
<rect x="102.65" y="618.04" width="5.40" height="67.16" fill="#2d5089" stroke="#1a1a1a" stroke-opacity="0.45" stroke-width="0.5"/>
<line x1="105.50" y1="610.77" x2="105.50" y2="624.02" stroke="#151515" stroke-width="1.2"/>
<line x1="103.90" y1="610.77" x2="107.10" y2="610.77" stroke="#151515" stroke-width="1.3"/>
<line x1="103.90" y1="624.02" x2="107.10" y2="624.02" stroke="#151515" stroke-width="1.2"/>
<rect x="110.30" y="645.82" width="5.40" height="39.38" fill="#ad0a30" stroke="#1a1a1a" stroke-opacity="0.45" stroke-width="0.5"/>
<line x1="113.50" y1="640.40" x2="113.50" y2="650.24" stroke="#151515" stroke-width="1.2"/>
<line x1="111.90" y1="640.40" x2="115.10" y2="640.40" stroke="#151515" stroke-width="1.3"/>
<line x1="111.90" y1="650.24" x2="115.10" y2="650.24" stroke="#151515" stroke-width="1.2"/>
<rect x="122.50" y="639.20" width="5.40" height="46.00" fill="#4f2369" stroke="#1a1a1a" stroke-opacity="0.45" stroke-width="0.5"/>
<line x1="125.50" y1="632.48" x2="125.50" y2="645.64" stroke="#151515" stroke-width="1.2"/>
<line x1="123.90" y1="632.48" x2="127.10" y2="632.48" stroke="#151515" stroke-width="1.3"/>
<line x1="123.90" y1="645.64" x2="127.10" y2="645.64" stroke="#151515" stroke-width="1.2"/>
<rect x="130.20" y="636.07" width="5.40" height="49.13" fill="#6cad3f" stroke="#1a1a1a" stroke-opacity="0.45" stroke-width="0.5"/>
<line x1="132.50" y1="625.58" x2="132.50" y2="646.74" stroke="#151515" stroke-width="1.2"/>
<line x1="130.90" y1="625.58" x2="134.10" y2="625.58" stroke="#151515" stroke-width="1.3"/>
<line x1="130.90" y1="646.74" x2="134.10" y2="646.74" stroke="#151515" stroke-width="1.2"/>
<rect x="137.35" y="661.83" width="5.40" height="23.37" fill="#2d5089" stroke="#1a1a1a" stroke-opacity="0.45" stroke-width="0.5"/>
<line x1="140.50" y1="657.23" x2="140.50" y2="666.80" stroke="#151515" stroke-width="1.2"/>
<line x1="138.90" y1="657.23" x2="142.10" y2="657.23" stroke="#151515" stroke-width="1.3"/>
<line x1="138.90" y1="666.80" x2="142.10" y2="666.80" stroke="#151515" stroke-width="1.2"/>
<rect x="144.65" y="669.19" width="5.40" height="16.01" fill="#ad0a30" stroke="#1a1a1a" stroke-opacity="0.45" stroke-width="0.5"/>
<line x1="147.50" y1="666.43" x2="147.50" y2="671.40" stroke="#151515" stroke-width="1.2"/>
<line x1="145.90" y1="666.43" x2="149.10" y2="666.43" stroke="#151515" stroke-width="1.3"/>
<line x1="145.90" y1="671.40" x2="149.10" y2="671.40" stroke="#151515" stroke-width="1.2"/>
<rect x="168.70" y="660.91" width="5.40" height="24.29" fill="#4f2369" stroke="#1a1a1a" stroke-opacity="0.45" stroke-width="0.5"/>
<line x1="171.50" y1="655.94" x2="171.50" y2="665.88" stroke="#151515" stroke-width="1.2"/>
<line x1="169.90" y1="655.94" x2="173.10" y2="655.94" stroke="#151515" stroke-width="1.3"/>
<line x1="169.90" y1="665.88" x2="173.10" y2="665.88" stroke="#151515" stroke-width="1.2"/>
<rect x="192.30" y="684.83" width="5.40" height="0.37" fill="#4f2369" stroke="#1a1a1a" stroke-opacity="0.45" stroke-width="0.5"/>
<rect x="199.60" y="684.83" width="5.40" height="0.37" fill="#6cad3f" stroke="#1a1a1a" stroke-opacity="0.45" stroke-width="0.5"/>
<rect x="207.10" y="680.42" width="5.40" height="4.78" fill="#2d5089" stroke="#1a1a1a" stroke-opacity="0.45" stroke-width="0.5"/>
<line x1="209.50" y1="678.39" x2="209.50" y2="682.44" stroke="#151515" stroke-width="1.2"/>
<line x1="207.90" y1="678.39" x2="211.10" y2="678.39" stroke="#151515" stroke-width="1.3"/>
<line x1="49.60" y1="566.80" x2="49.60" y2="685.90" stroke="#111" stroke-width="1.4"/>
<line x1="48.90" y1="685.20" x2="225.00" y2="685.20" stroke="#111" stroke-width="1.4"/>
<line x1="46.40" y1="685.20" x2="49.60" y2="685.20" stroke="#111" stroke-width="1.0"/>
<line x1="46.40" y1="662.20" x2="49.60" y2="662.20" stroke="#111" stroke-width="1.0"/>
<line x1="46.40" y1="639.20" x2="49.60" y2="639.20" stroke="#111" stroke-width="1.0"/>
<line x1="46.40" y1="616.20" x2="49.60" y2="616.20" stroke="#111" stroke-width="1.0"/>
<line x1="46.40" y1="593.20" x2="49.60" y2="593.20" stroke="#111" stroke-width="1.0"/>
<line x1="46.40" y1="570.20" x2="49.60" y2="570.20" stroke="#111" stroke-width="1.0"/>
<line x1="67.10" y1="685.20" x2="67.10" y2="688.20" stroke="#111" stroke-width="1.0"/>
<line x1="101.70" y1="685.20" x2="101.70" y2="688.20" stroke="#111" stroke-width="1.0"/>
<line x1="136.30" y1="685.20" x2="136.30" y2="688.20" stroke="#111" stroke-width="1.0"/>
<line x1="171.20" y1="685.20" x2="171.20" y2="688.20" stroke="#111" stroke-width="1.0"/>
<line x1="205.80" y1="685.20" x2="205.80" y2="688.20" stroke="#111" stroke-width="1.0"/>
<text x="43.00" y="688.00" font-size="8.2" text-anchor="end" textLength="15.80" lengthAdjust="spacingAndGlyphs" fill="#262626" stroke="#262626" stroke-width="0.2">0.00</text>
<text x="43.00" y="665.00" font-size="8.2" text-anchor="end" textLength="15.80" lengthAdjust="spacingAndGlyphs" fill="#262626" stroke="#262626" stroke-width="0.2">0.25</text>
<text x="43.00" y="642.00" font-size="8.2" text-anchor="end" textLength="15.80" lengthAdjust="spacingAndGlyphs" fill="#262626" stroke="#262626" stroke-width="0.2">0.50</text>
<text x="43.00" y="619.00" font-size="8.2" text-anchor="end" textLength="15.80" lengthAdjust="spacingAndGlyphs" fill="#262626" stroke="#262626" stroke-width="0.2">0.75</text>
<text x="43.00" y="596.00" font-size="8.2" text-anchor="end" textLength="15.80" lengthAdjust="spacingAndGlyphs" fill="#262626" stroke="#262626" stroke-width="0.2">1.00</text>
<text x="43.00" y="573.00" font-size="8.2" text-anchor="end" textLength="15.80" lengthAdjust="spacingAndGlyphs" fill="#262626" stroke="#262626" stroke-width="0.2">1.25</text>
<text x="66.75" y="698.90" font-size="8.2" text-anchor="middle" textLength="37.50" lengthAdjust="spacingAndGlyphs" fill="#262626" stroke="#262626" stroke-width="0.2">Untreated</text>
<text x="101.45" y="698.90" font-size="8.2" text-anchor="middle" textLength="16.30" lengthAdjust="spacingAndGlyphs" fill="#262626" stroke="#262626" stroke-width="0.2">0.05</text>
<text x="136.30" y="698.90" font-size="8.2" text-anchor="middle" textLength="11.80" lengthAdjust="spacingAndGlyphs" fill="#262626" stroke="#262626" stroke-width="0.2">0.5</text>
<text x="171.20" y="698.90" font-size="8.2" text-anchor="middle" textLength="3.60" lengthAdjust="spacingAndGlyphs" fill="#262626" stroke="#262626" stroke-width="0.2">1</text>
<text x="205.80" y="698.90" font-size="8.2" text-anchor="middle" textLength="4.90" lengthAdjust="spacingAndGlyphs" fill="#262626" stroke="#262626" stroke-width="0.2">5</text>
<text x="7.70" y="562.30" font-size="12" font-weight="bold" fill="#111" stroke="#111" stroke-width="0.25">G</text>
<text transform="translate(21.50,626.40) rotate(-90)" x="0" y="0" font-size="8.8" text-anchor="middle" textLength="17.00" lengthAdjust="spacingAndGlyphs" fill="#262626" stroke="#262626" stroke-width="0.2">Ratio</text>
<text x="100.20" y="713.40" font-size="10.2" textLength="62.90" lengthAdjust="spacingAndGlyphs" fill="#262626" stroke="#262626" stroke-width="0.2">[Gilteritinib] (μM)</text>
<path d="M97.50,598.20 V594.50 H112.50 V600.50" fill="none" stroke="#151515" stroke-width="1.15"/>
<text x="105.25" y="595.40" font-size="9.5" text-anchor="middle" textLength="9.70" lengthAdjust="spacingAndGlyphs" fill="#262626" stroke="#262626" stroke-width="0.2">***</text>
<path d="M105.50,606.90 V603.50 H112.50 V634.00" fill="none" stroke="#151515" stroke-width="1.15"/>
<text x="108.10" y="604.40" font-size="9.5" text-anchor="middle" textLength="6.60" lengthAdjust="spacingAndGlyphs" fill="#262626" stroke="#262626" stroke-width="0.2">**</text>
<path d="M132.50,623.30 V621.50 H147.50 V640.30" fill="none" stroke="#151515" stroke-width="1.15"/>
<text x="140.25" y="622.00" font-size="9.5" text-anchor="middle" textLength="6.60" lengthAdjust="spacingAndGlyphs" fill="#262626" stroke="#262626" stroke-width="0.2">**</text>
<path d="M139.50,653.60 V649.50 H147.50 V666.00" fill="none" stroke="#151515" stroke-width="1.15"/>
<text x="143.90" y="646.60" font-size="7.5" text-anchor="middle" textLength="7.60" lengthAdjust="spacingAndGlyphs" fill="#262626" stroke="#262626" stroke-width="0.2">ns</text>
<rect x="287.00" y="595.60" width="5.20" height="88.80" fill="#4f2369" stroke="#1a1a1a" stroke-opacity="0.45" stroke-width="0.5"/>
<line x1="289.50" y1="590.27" x2="289.50" y2="600.93" stroke="#151515" stroke-width="1.2"/>
<line x1="287.90" y1="590.27" x2="291.10" y2="590.27" stroke="#151515" stroke-width="1.3"/>
<line x1="287.90" y1="600.93" x2="291.10" y2="600.93" stroke="#151515" stroke-width="1.2"/>
<rect x="296.20" y="595.60" width="5.20" height="88.80" fill="#6cad3f" stroke="#1a1a1a" stroke-opacity="0.45" stroke-width="0.5"/>
<line x1="298.50" y1="590.01" x2="298.50" y2="600.93" stroke="#151515" stroke-width="1.2"/>
<line x1="296.90" y1="590.01" x2="300.10" y2="590.01" stroke="#151515" stroke-width="1.3"/>
<line x1="296.90" y1="600.93" x2="300.10" y2="600.93" stroke="#151515" stroke-width="1.2"/>
<rect x="305.40" y="595.60" width="5.20" height="88.80" fill="#2d5089" stroke="#1a1a1a" stroke-opacity="0.45" stroke-width="0.5"/>
<line x1="308.50" y1="592.05" x2="308.50" y2="599.15" stroke="#151515" stroke-width="1.2"/>
<line x1="306.90" y1="592.05" x2="310.10" y2="592.05" stroke="#151515" stroke-width="1.3"/>
<line x1="306.90" y1="599.15" x2="310.10" y2="599.15" stroke="#151515" stroke-width="1.2"/>
<rect x="314.50" y="595.60" width="5.20" height="88.80" fill="#ad0a30" stroke="#1a1a1a" stroke-opacity="0.45" stroke-width="0.5"/>
<line x1="317.50" y1="590.72" x2="317.50" y2="600.48" stroke="#151515" stroke-width="1.2"/>
<line x1="315.90" y1="590.72" x2="319.10" y2="590.72" stroke="#151515" stroke-width="1.3"/>
<line x1="315.90" y1="600.48" x2="319.10" y2="600.48" stroke="#151515" stroke-width="1.2"/>
<rect x="328.75" y="604.21" width="5.20" height="80.19" fill="#4f2369" stroke="#1a1a1a" stroke-opacity="0.45" stroke-width="0.5"/>
<line x1="331.50" y1="593.11" x2="331.50" y2="615.76" stroke="#151515" stroke-width="1.2"/>
<line x1="329.90" y1="593.11" x2="333.10" y2="593.11" stroke="#151515" stroke-width="1.3"/>
<line x1="329.90" y1="615.76" x2="333.10" y2="615.76" stroke="#151515" stroke-width="1.2"/>
<rect x="337.85" y="604.57" width="5.20" height="79.83" fill="#6cad3f" stroke="#1a1a1a" stroke-opacity="0.45" stroke-width="0.5"/>
<line x1="340.50" y1="598.53" x2="340.50" y2="609.63" stroke="#151515" stroke-width="1.2"/>
<line x1="338.90" y1="598.53" x2="342.10" y2="598.53" stroke="#151515" stroke-width="1.3"/>
<line x1="338.90" y1="609.63" x2="342.10" y2="609.63" stroke="#151515" stroke-width="1.2"/>
<rect x="346.90" y="608.12" width="5.20" height="76.28" fill="#2d5089" stroke="#1a1a1a" stroke-opacity="0.45" stroke-width="0.5"/>
<line x1="349.50" y1="601.02" x2="349.50" y2="615.76" stroke="#151515" stroke-width="1.2"/>
<line x1="347.90" y1="601.02" x2="351.10" y2="601.02" stroke="#151515" stroke-width="1.3"/>
<line x1="347.90" y1="615.76" x2="351.10" y2="615.76" stroke="#151515" stroke-width="1.2"/>
<rect x="356.15" y="625.44" width="5.20" height="58.96" fill="#ad0a30" stroke="#1a1a1a" stroke-opacity="0.45" stroke-width="0.5"/>
<line x1="358.50" y1="617.09" x2="358.50" y2="632.72" stroke="#151515" stroke-width="1.2"/>
<line x1="356.90" y1="617.09" x2="360.10" y2="617.09" stroke="#151515" stroke-width="1.3"/>
<line x1="356.90" y1="632.72" x2="360.10" y2="632.72" stroke="#151515" stroke-width="1.2"/>
<rect x="370.50" y="608.03" width="5.20" height="76.37" fill="#4f2369" stroke="#1a1a1a" stroke-opacity="0.45" stroke-width="0.5"/>
<line x1="373.50" y1="605.63" x2="373.50" y2="612.03" stroke="#151515" stroke-width="1.2"/>
<line x1="371.90" y1="605.63" x2="375.10" y2="605.63" stroke="#151515" stroke-width="1.3"/>
<line x1="371.90" y1="612.03" x2="375.10" y2="612.03" stroke="#151515" stroke-width="1.2"/>
<rect x="379.70" y="606.17" width="5.20" height="78.23" fill="#6cad3f" stroke="#1a1a1a" stroke-opacity="0.45" stroke-width="0.5"/>
<line x1="382.50" y1="591.34" x2="382.50" y2="621.17" stroke="#151515" stroke-width="1.2"/>
<line x1="380.90" y1="591.34" x2="384.10" y2="591.34" stroke="#151515" stroke-width="1.3"/>
<line x1="380.90" y1="621.17" x2="384.10" y2="621.17" stroke="#151515" stroke-width="1.2"/>
<rect x="388.75" y="628.28" width="5.20" height="56.12" fill="#2d5089" stroke="#1a1a1a" stroke-opacity="0.45" stroke-width="0.5"/>
<line x1="391.50" y1="618.69" x2="391.50" y2="638.76" stroke="#151515" stroke-width="1.2"/>
<line x1="389.90" y1="618.69" x2="393.10" y2="618.69" stroke="#151515" stroke-width="1.3"/>
<line x1="389.90" y1="638.76" x2="393.10" y2="638.76" stroke="#151515" stroke-width="1.2"/>
<rect x="397.85" y="647.99" width="5.20" height="36.41" fill="#ad0a30" stroke="#1a1a1a" stroke-opacity="0.45" stroke-width="0.5"/>
<line x1="400.50" y1="642.66" x2="400.50" y2="652.96" stroke="#151515" stroke-width="1.2"/>
<line x1="398.90" y1="642.66" x2="402.10" y2="642.66" stroke="#151515" stroke-width="1.3"/>
<line x1="398.90" y1="652.96" x2="402.10" y2="652.96" stroke="#151515" stroke-width="1.2"/>
<rect x="429.90" y="683.33" width="5.20" height="1.07" fill="#2d5089" stroke="#1a1a1a" stroke-opacity="0.45" stroke-width="0.5"/>
<line x1="432.50" y1="682.18" x2="432.50" y2="684.40" stroke="#151515" stroke-width="1.2"/>
<line x1="430.90" y1="682.18" x2="434.10" y2="682.18" stroke="#151515" stroke-width="1.3"/>
<line x1="282.40" y1="571.00" x2="282.40" y2="685.10" stroke="#111" stroke-width="1.4"/>
<line x1="281.70" y1="684.40" x2="448.70" y2="684.40" stroke="#111" stroke-width="1.4"/>
<line x1="279.20" y1="684.40" x2="282.40" y2="684.40" stroke="#111" stroke-width="1.0"/>
<line x1="279.20" y1="662.20" x2="282.40" y2="662.20" stroke="#111" stroke-width="1.0"/>
<line x1="279.20" y1="640.00" x2="282.40" y2="640.00" stroke="#111" stroke-width="1.0"/>
<line x1="279.20" y1="617.80" x2="282.40" y2="617.80" stroke="#111" stroke-width="1.0"/>
<line x1="279.20" y1="595.60" x2="282.40" y2="595.60" stroke="#111" stroke-width="1.0"/>
<line x1="279.20" y1="573.40" x2="282.40" y2="573.40" stroke="#111" stroke-width="1.0"/>
<line x1="303.20" y1="684.40" x2="303.20" y2="687.40" stroke="#111" stroke-width="1.0"/>
<line x1="345.00" y1="684.40" x2="345.00" y2="687.40" stroke="#111" stroke-width="1.0"/>
<line x1="386.80" y1="684.40" x2="386.80" y2="687.40" stroke="#111" stroke-width="1.0"/>
<line x1="428.50" y1="684.40" x2="428.50" y2="687.40" stroke="#111" stroke-width="1.0"/>
<text x="276.20" y="687.20" font-size="8.2" text-anchor="end" textLength="16.00" lengthAdjust="spacingAndGlyphs" fill="#262626" stroke="#262626" stroke-width="0.2">0.00</text>
<text x="276.20" y="665.00" font-size="8.2" text-anchor="end" textLength="16.00" lengthAdjust="spacingAndGlyphs" fill="#262626" stroke="#262626" stroke-width="0.2">0.25</text>
<text x="276.20" y="642.80" font-size="8.2" text-anchor="end" textLength="16.00" lengthAdjust="spacingAndGlyphs" fill="#262626" stroke="#262626" stroke-width="0.2">0.50</text>
<text x="276.20" y="620.60" font-size="8.2" text-anchor="end" textLength="16.00" lengthAdjust="spacingAndGlyphs" fill="#262626" stroke="#262626" stroke-width="0.2">0.75</text>
<text x="276.20" y="598.40" font-size="8.2" text-anchor="end" textLength="16.00" lengthAdjust="spacingAndGlyphs" fill="#262626" stroke="#262626" stroke-width="0.2">1.00</text>
<text x="276.20" y="576.20" font-size="8.2" text-anchor="end" textLength="16.00" lengthAdjust="spacingAndGlyphs" fill="#262626" stroke="#262626" stroke-width="0.2">1.25</text>
<text x="300.05" y="698.60" font-size="8.2" text-anchor="middle" textLength="37.30" lengthAdjust="spacingAndGlyphs" fill="#262626" stroke="#262626" stroke-width="0.2">Untreated</text>
<text x="344.80" y="698.60" font-size="8.2" text-anchor="middle" textLength="16.00" lengthAdjust="spacingAndGlyphs" fill="#262626" stroke="#262626" stroke-width="0.2">0.05</text>
<text x="386.80" y="698.60" font-size="8.2" text-anchor="middle" textLength="11.80" lengthAdjust="spacingAndGlyphs" fill="#262626" stroke="#262626" stroke-width="0.2">0.5</text>
<text x="428.50" y="698.60" font-size="8.2" text-anchor="middle" textLength="4.90" lengthAdjust="spacingAndGlyphs" fill="#262626" stroke="#262626" stroke-width="0.2">5</text>
<text x="241.00" y="562.50" font-size="12" font-weight="bold" fill="#111" stroke="#111" stroke-width="0.25">H</text>
<text transform="translate(254.50,628.00) rotate(-90)" x="0" y="0" font-size="8.8" text-anchor="middle" textLength="17.50" lengthAdjust="spacingAndGlyphs" fill="#262626" stroke="#262626" stroke-width="0.2">Ratio</text>
<text x="331.10" y="713.40" font-size="10.2" textLength="67.00" lengthAdjust="spacingAndGlyphs" fill="#262626" stroke="#262626" stroke-width="0.2">[Midostaurin] (μM)</text>
<path d="M340.50,596.00 V580.50 H359.50 V585.50" fill="none" stroke="#151515" stroke-width="1.15"/>
<text x="331.70" y="577.80" font-size="8.3" textLength="33.40" lengthAdjust="spacingAndGlyphs" fill="#262626" stroke="#262626" stroke-width="0.2">P = 0.055</text>
<path d="M349.50,600.50 V592.50 H358.50 V615.80" fill="none" stroke="#151515" stroke-width="1.15"/>
<text x="354.30" y="590.30" font-size="7.5" text-anchor="middle" textLength="7.60" lengthAdjust="spacingAndGlyphs" fill="#262626" stroke="#262626" stroke-width="0.2">ns</text>
<path d="M381.50,588.80 V584.50 H400.50 V639.20" fill="none" stroke="#151515" stroke-width="1.15"/>
<text x="391.20" y="584.80" font-size="9.5" text-anchor="middle" textLength="6.60" lengthAdjust="spacingAndGlyphs" fill="#262626" stroke="#262626" stroke-width="0.2">**</text>
<path d="M391.50,617.50 V611.50 H400.50 V641.50" fill="none" stroke="#151515" stroke-width="1.15"/>
<text x="396.00" y="610.60" font-size="7.5" text-anchor="middle" textLength="7.60" lengthAdjust="spacingAndGlyphs" fill="#262626" stroke="#262626" stroke-width="0.2">ns</text>
<rect x="411.0" y="568.30" width="13.6" height="6.0" fill="#4f2369"/>
<text x="426.90" y="574.10" font-size="8.0" textLength="41.40" lengthAdjust="spacingAndGlyphs" fill="#262626" stroke="#262626" stroke-width="0.2">NBM (N=6)</text>
<rect x="411.0" y="580.00" width="13.6" height="6.0" fill="#6cad3f"/>
<text x="426.90" y="585.80" font-size="8.0" textLength="53.50" lengthAdjust="spacingAndGlyphs" fill="#262626" stroke="#262626" stroke-width="0.2"><tspan font-style="italic">FLT3</tspan>-WT (N=7)</text>
<rect x="411.0" y="592.10" width="13.6" height="6.0" fill="#2d5089"/>
<text x="426.90" y="597.90" font-size="8.0" textLength="86.30" lengthAdjust="spacingAndGlyphs" fill="#262626" stroke="#262626" stroke-width="0.2"><tspan font-style="italic">FLT3</tspan>-ITD-AR &lt; 0.5 (N=9)</text>
<rect x="411.0" y="603.80" width="13.6" height="6.0" fill="#ad0a30"/>
<text x="426.90" y="609.60" font-size="8.0" textLength="86.90" lengthAdjust="spacingAndGlyphs" fill="#262626" stroke="#262626" stroke-width="0.2"><tspan font-style="italic">FLT3</tspan>-ITD-AR ≥ 0.5 (N=6)</text>
<text x="466.60" y="689.60" font-size="9.5" text-anchor="end" textLength="9.60" lengthAdjust="spacingAndGlyphs" fill="#262626" stroke="#262626" stroke-width="0.2">***</text>
<text x="468.70" y="688.60" font-size="8.1" font-style="italic" textLength="5.50" lengthAdjust="spacingAndGlyphs" fill="#262626" stroke="#262626" stroke-width="0.2">P</text>
<text x="476.30" y="688.60" font-size="8.1" textLength="25.30" lengthAdjust="spacingAndGlyphs" fill="#262626" stroke="#262626" stroke-width="0.2">&lt; 0.001</text>
<text x="466.60" y="699.80" font-size="9.5" text-anchor="end" textLength="6.50" lengthAdjust="spacingAndGlyphs" fill="#262626" stroke="#262626" stroke-width="0.2">**</text>
<text x="468.70" y="698.80" font-size="8.1" font-style="italic" textLength="5.50" lengthAdjust="spacingAndGlyphs" fill="#262626" stroke="#262626" stroke-width="0.2">P</text>
<text x="476.30" y="698.80" font-size="8.1" textLength="21.30" lengthAdjust="spacingAndGlyphs" fill="#262626" stroke="#262626" stroke-width="0.2">&lt; 0.01</text>
<text x="466.60" y="709.20" font-size="9.5" text-anchor="end" textLength="3.40" lengthAdjust="spacingAndGlyphs" fill="#262626" stroke="#262626" stroke-width="0.2">*</text>
<text x="468.70" y="708.20" font-size="8.1" font-style="italic" textLength="5.50" lengthAdjust="spacingAndGlyphs" fill="#262626" stroke="#262626" stroke-width="0.2">P</text>
<text x="476.30" y="708.20" font-size="8.1" textLength="21.30" lengthAdjust="spacingAndGlyphs" fill="#262626" stroke="#262626" stroke-width="0.2">&lt; 0.05</text>
<rect x="0.75" y="0.75" width="518.5" height="718.5" fill="none" stroke="#000" stroke-width="1.5"/>
</svg>
</body></html>
